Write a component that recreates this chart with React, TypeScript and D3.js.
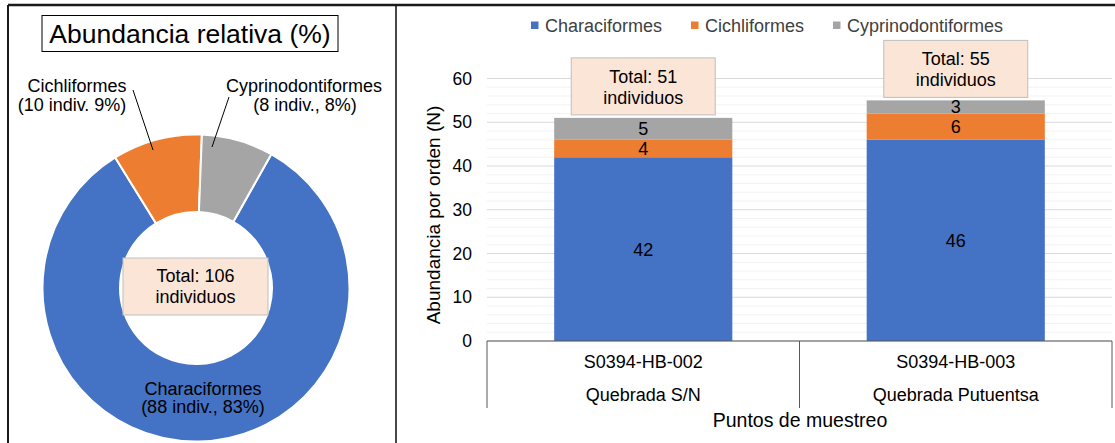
import React from "react";
import * as d3 from "d3";

// ---- data ----
const orders = ["Characiformes", "Cichliformes", "Cyprinodontiformes"];
const orderColors = ["#4472C4", "#ED7D31", "#A5A5A5"];
const donutCounts = [88, 10, 8];
const donutPct = [83, 9, 8];
const donutTotal = 106;

const sites = ["S0394-HB-002", "S0394-HB-003"];
const streams = ["Quebrada S/N", "Quebrada Putuentsa"];
const characiformes = [42, 46];
const cichliformes = [4, 6];
const cyprinodontiformes = [5, 3];
const siteTotals = [51, 55];
const yTicks = [0, 10, 20, 30, 40, 50, 60];

const FONT = "'Liberation Sans', Arial, sans-serif";

export default function App() {
  // ---- donut ----
  const cx = 196, cy = 288;
  const outerR = 153.5, innerR = 76;
  const rot = (2.2 * Math.PI) / 180;
  const startA = (donutCounts[2] / donutTotal) * 2 * Math.PI + rot;
  const pie = d3
    .pie<number>()
    .sort(null)
    .startAngle(startA)
    .endAngle(startA + 2 * Math.PI);
  const arcs = pie(donutCounts);
  const arcGen = d3.arc<d3.PieArcDatum<number>>().innerRadius(innerR).outerRadius(outerR);

  // ---- bars ----
  const y = d3.scaleLinear().domain([0, 60]).range([341, 78.5]);
  const x = d3.scaleBand<string>().domain(sites).range([487, 1112]).paddingInner(0.43).paddingOuter(0.215);
  const series = [characiformes, cichliformes, cyprinodontiformes];
  const table = sites.map((s, i) => {
    const row: any = { site: s };
    orders.forEach((o, k) => (row[o] = series[k][i]));
    return row;
  });
  const stacked = d3.stack<any>().keys(orders)(table);
  const minorTicks = d3.range(0, 61, 2);
  const step = x.step();
  const bounds = [x.range()[0], x.range()[0] + step, x.range()[0] + 2 * step];

  const legendItems = [
    { sq: 531, tx: 545 },
    { sq: 691, tx: 705 },
    { sq: 833, tx: 847 },
  ];

  return (
    <svg
      width={1115}
      height={443}
      style={{ position: "absolute", left: 0, top: 0, background: "#fff" }}
      fontFamily={FONT}
    >
      <rect x={0} y={0} width={1115} height={443} fill="#fff" />
      {/* frame */}
      <line x1={8} x2={1115} y1={5} y2={5} stroke="#1a1a1a" strokeWidth={2.5} />
      <line x1={8} x2={8} y1={5} y2={443} stroke="#1a1a1a" strokeWidth={2} />
      <line x1={396} x2={396} y1={5} y2={443} stroke="#1a1a1a" strokeWidth={1.6} />

      {/* ---- left panel ---- */}
      <rect x={42} y={15.5} width={296} height={36} fill="#fff" stroke="#000" strokeWidth={1} />
      <text x={190} y={43} textAnchor="middle" fontSize={26.5} fill="#000">
        Abundancia relativa (%)
      </text>
      <g transform={`translate(${cx},${cy})`}>
        {arcs.map((a, i) => (
          <path key={i} d={arcGen(a) || ""} fill={orderColors[i]} stroke="#fff" strokeWidth={2} />
        ))}
      </g>
      <rect x={123} y={258} width={145} height={57} fill="#FBE5D6" stroke="#BFBFBF" strokeWidth={1} />
      <text x={195.5} y={282} textAnchor="middle" fontSize={18} fill="#000">
        {`Total: ${donutTotal}`}
      </text>
      <text x={195.5} y={303} textAnchor="middle" fontSize={18} fill="#000">
        individuos
      </text>
      {/* Characiformes label */}
      <text x={203} y={395} textAnchor="middle" fontSize={18} fill="#000">
        {orders[0]}
      </text>
      <text x={203} y={413} textAnchor="middle" fontSize={18} fill="#000">
        {`(${donutCounts[0]} indiv., ${donutPct[0]}%)`}
      </text>
      {/* Cichliformes label */}
      <text x={77} y={92} textAnchor="middle" fontSize={18} fill="#000">
        {orders[1]}
      </text>
      <text x={72} y={111} textAnchor="middle" fontSize={18} fill="#000">
        {`(${donutCounts[1]} indiv. ${donutPct[1]}%)`}
      </text>
      <line x1={133} y1={90} x2={153} y2={150} stroke="#000" strokeWidth={1} />
      {/* Cyprinodontiformes label */}
      <text x={304} y={92} textAnchor="middle" fontSize={18} fill="#000">
        {orders[2]}
      </text>
      <text x={305} y={111} textAnchor="middle" fontSize={18} fill="#000">
        {`(${donutCounts[2]} indiv., ${donutPct[2]}%)`}
      </text>
      <line x1={229} y1={97} x2={212} y2={147} stroke="#000" strokeWidth={1} />

      {/* ---- right panel ---- */}
      {/* legend */}
      {orders.map((o, i) => (
        <g key={o}>
          <rect x={legendItems[i].sq} y={21.5} width={7.5} height={7.5} fill={orderColors[i]} />
          <text x={legendItems[i].tx} y={31.5} fontSize={18} fill="#404040">
            {o}
          </text>
        </g>
      ))}
      {/* gridlines */}
      {minorTicks.map((t) => (
        <line
          key={t}
          x1={487}
          x2={1112}
          y1={y(t)}
          y2={y(t)}
          stroke={t % 10 === 0 ? "#D9D9D9" : "#F2F2F2"}
          strokeWidth={1}
        />
      ))}
      {/* y ticks */}
      {yTicks.map((t) => (
        <text key={t} x={472} y={y(t) + 6} textAnchor="end" fontSize={17.5} fill="#000">
          {t}
        </text>
      ))}
      <text
        transform={`translate(433,215) rotate(-90)`}
        textAnchor="middle"
        dominantBaseline="central"
        fontSize={19}
        fill="#000"
      >
        Abundancia por orden (N)
      </text>
      {/* bars */}
      {stacked.map((layer, k) => (
        <g key={layer.key}>
          {layer.map((d, i) => {
            const x0 = x(sites[i]) as number;
            const y0 = y(d[1]);
            const h = y(d[0]) - y(d[1]);
            return (
              <g key={i}>
                <rect x={x0} y={y0} width={x.bandwidth()} height={h} fill={orderColors[k]} />
                <text
                  x={x0 + x.bandwidth() / 2}
                  y={y0 + h / 2 + 6.5}
                  textAnchor="middle"
                  fontSize={18}
                  fill="#000"
                >
                  {series[k][i]}
                </text>
              </g>
            );
          })}
        </g>
      ))}
      {/* total boxes */}
      {sites.map((s, i) => {
        const c = (x(s) as number) + x.bandwidth() / 2;
        const bottom = y(siteTotals[i]) - 3;
        const top = bottom - 57;
        return (
          <g key={s}>
            <rect x={c - 72} y={top} width={144} height={57} fill="#FBE5D6" stroke="#BFBFBF" strokeWidth={1} />
            <text x={c} y={top + 25} textAnchor="middle" fontSize={18} fill="#000">
              {`Total: ${siteTotals[i]}`}
            </text>
            <text x={c} y={top + 46} textAnchor="middle" fontSize={18} fill="#000">
              individuos
            </text>
          </g>
        );
      })}
      {/* category axis box */}
      <line x1={487} x2={1112} y1={341} y2={341} stroke="#595959" strokeWidth={1} />
      {bounds.map((b, i) => (
        <line key={i} x1={b} x2={b} y1={341} y2={408} stroke="#595959" strokeWidth={1} />
      ))}
      {sites.map((s, i) => {
        const c = (x(s) as number) + x.bandwidth() / 2;
        return (
          <g key={s}>
            <text x={c} y={368} textAnchor="middle" fontSize={18} fill="#000">
              {s}
            </text>
            <text x={c} y={401} textAnchor="middle" fontSize={18} fill="#000">
              {streams[i]}
            </text>
          </g>
        );
      })}
      <text x={800} y={427} textAnchor="middle" fontSize={19.5} fill="#000">
        Puntos de muestreo
      </text>
    </svg>
  );
}
